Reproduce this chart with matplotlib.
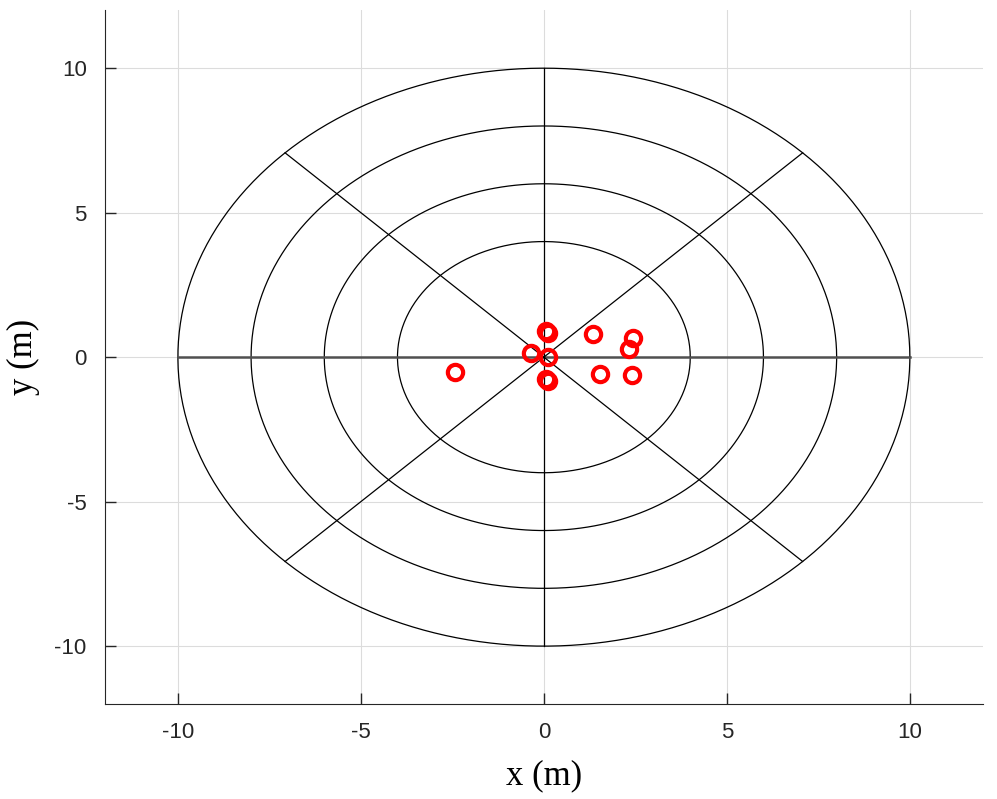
import numpy as np
import matplotlib
matplotlib.use('Agg')
import matplotlib.pyplot as plt

plt.rcParams['axes.unicode_minus'] = False

# ring radii (m) and spoke angles (deg)
ring_radii = [4, 6, 8, 10]
spoke_angles = [0, 45, 90, 135]

# measured source positions (m)
pts_x = [0.05, 0.10, 1.35, 2.44, 2.33, -0.36, 0.12, -2.43, 0.07, 0.10, 1.53, 2.42]
pts_y = [0.90, 0.84, 0.79, 0.68, 0.27, 0.13, 0.01, -0.53, -0.76, -0.84, -0.59, -0.62]

fig = plt.figure(figsize=(9.97, 7.99), dpi=100)
ax = fig.add_axes([0.105, 0.119, 0.881, 0.868])

th = np.linspace(0, 2 * np.pi, 400)
for r in ring_radii:
    ax.plot(r * np.cos(th), r * np.sin(th), color='black', lw=0.9, zorder=3)

rmax = max(ring_radii)
for a in spoke_angles:
    c, s = np.cos(np.radians(a)), np.sin(np.radians(a))
    if a == 0:
        ax.plot([-rmax * c, rmax * c], [-rmax * s, rmax * s], color='#505050', lw=1.8, zorder=3)
    else:
        ax.plot([-rmax * c, rmax * c], [-rmax * s, rmax * s], color='black', lw=0.9, zorder=3)

ax.plot(pts_x, pts_y, 'o', mfc='none', mec='red', ms=11, mew=3, zorder=4)

ax.set_xlim(-12, 12)
ax.set_ylim(-12, 12)
ax.set_xticks([-10, -5, 0, 5, 10])
ax.set_yticks([-10, -5, 0, 5, 10])
ax.grid(True, color='#dcdcdc', lw=0.8, zorder=0)
ax.set_axisbelow(True)
ax.spines['top'].set_visible(False)
ax.spines['right'].set_visible(False)
ax.spines['left'].set_color('#262626')
ax.spines['bottom'].set_color('#262626')
ax.tick_params(direction='in', length=8, width=1, colors='#262626', labelsize=16, pad=13,
               labelfontfamily='Liberation Sans')

ax.set_xlabel('x (m)', fontsize=25, family='Liberation Serif', labelpad=12)
ax.set_ylabel('y (m)', fontsize=25, family='Liberation Serif', labelpad=10)

fig.savefig('out.png', dpi=100)
